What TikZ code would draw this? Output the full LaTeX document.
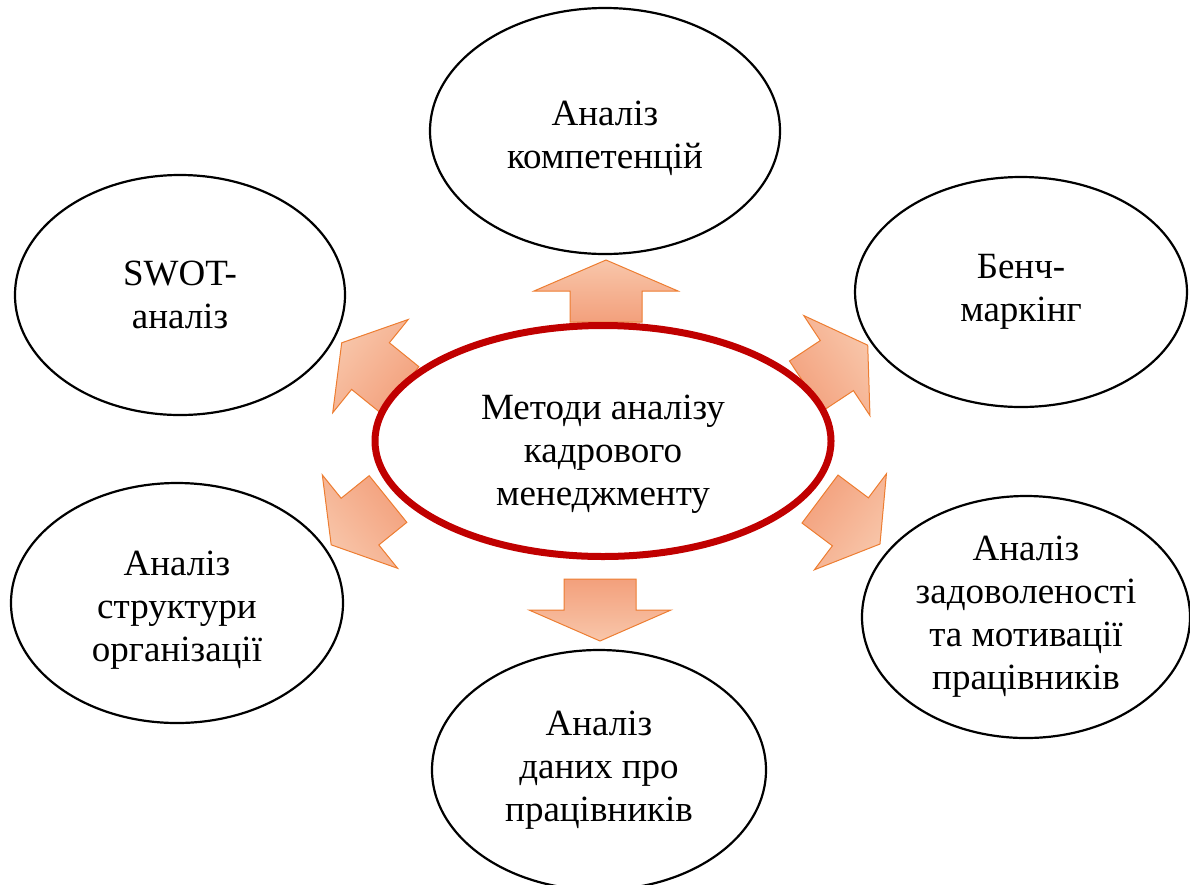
\documentclass[tikz,border=0pt]{standalone}
\usepackage{fontspec}
\setmainfont{Liberation Serif}
\usetikzlibrary{shapes.geometric}
\definecolor{rimred}{HTML}{C00000}
\definecolor{arrowline}{HTML}{ED7D31}
\definecolor{arrowlight}{HTML}{F8C6AA}
\definecolor{arrowdark}{HTML}{F3A07C}

% block arrow: base point, direction, length, head length, shaft half width, head half width
\newcommand{\blockarrow}[6]{%
  \pgfmathsetmacro{\shadeang}{#2-90}
  \begin{scope}[shift={#1}, rotate=#2]
    \draw[blockarr, shading angle=\shadeang] (0,-#5) -- ({#3-#4},-#5) -- ({#3-#4},-#6) -- (#3,0)
      -- ({#3-#4},#6) -- ({#3-#4},#5) -- (0,#5) -- cycle;
  \end{scope}}
% taller first line pushes the text block down a little
\newcommand{\lowerby}[1]{\rule{0pt}{#1}}

\begin{document}
\begin{tikzpicture}[x=1pt, y=1pt,
  blockarr/.style={draw=arrowline, line width=1pt, top color=arrowlight, bottom color=arrowdark, line join=miter},
  topic/.style={ellipse, draw=black, line width=2.2pt, fill=white, inner sep=0pt, align=center,
    font=\fontsize{37pt}{43pt}\selectfont},
  hub/.style={ellipse, draw=rimred, line width=7pt, fill=white, inner sep=0pt, align=center,
    font=\fontsize{37pt}{43pt}\selectfont}]
  \useasboundingbox (0,0) rectangle (1190,-884);
  \clip (0,0) rectangle (1190,-884);

  % outer methods
  \node[topic, minimum width=350pt, minimum height=246pt] (comp) at (605,-131) {\lowerby{40pt}Аналіз\\компетенцій};
  \node[topic, minimum width=332pt, minimum height=230pt] (bench) at (1021,-292) {Бенч-\\маркінг};
  \node[topic, minimum width=328pt, minimum height=242pt] (satisf) at (1026,-617) {Аналіз\\задоволеності\\та мотивації\\працівників};
  \node[topic, minimum width=334pt, minimum height=240pt] (data) at (599,-770) {Аналіз\\даних про\\працівників};
  \node[topic, minimum width=332pt, minimum height=240pt] (struct) at (177,-603) {\lowerby{38pt}Аналіз\\структури\\організації};
  \node[topic, minimum width=330pt, minimum height=240pt] (swot) at (180,-295) {SWOT-\\аналіз};

  % arrows
  \blockarrow{(606,-322)}{90}{62}{31}{36}{72}
  \blockarrow{(600,-579)}{-90}{62}{31}{36}{71}
  \blockarrow{(400,-390)}{141}{75}{37}{30}{60}
  \blockarrow{(806,-386)}{33.5}{74}{37}{30}{60}
  \blockarrow{(388,-499)}{218.9}{73}{37}{30}{60}
  \blockarrow{(820,-499)}{-36.9}{75}{37}{30}{60}

  % centre
  \node[hub, minimum width=456pt, minimum height=231pt] (methods) at (603,-441) {\lowerby{50pt}Методи аналізу\\кадрового\\менеджменту};
\end{tikzpicture}
\end{document}
